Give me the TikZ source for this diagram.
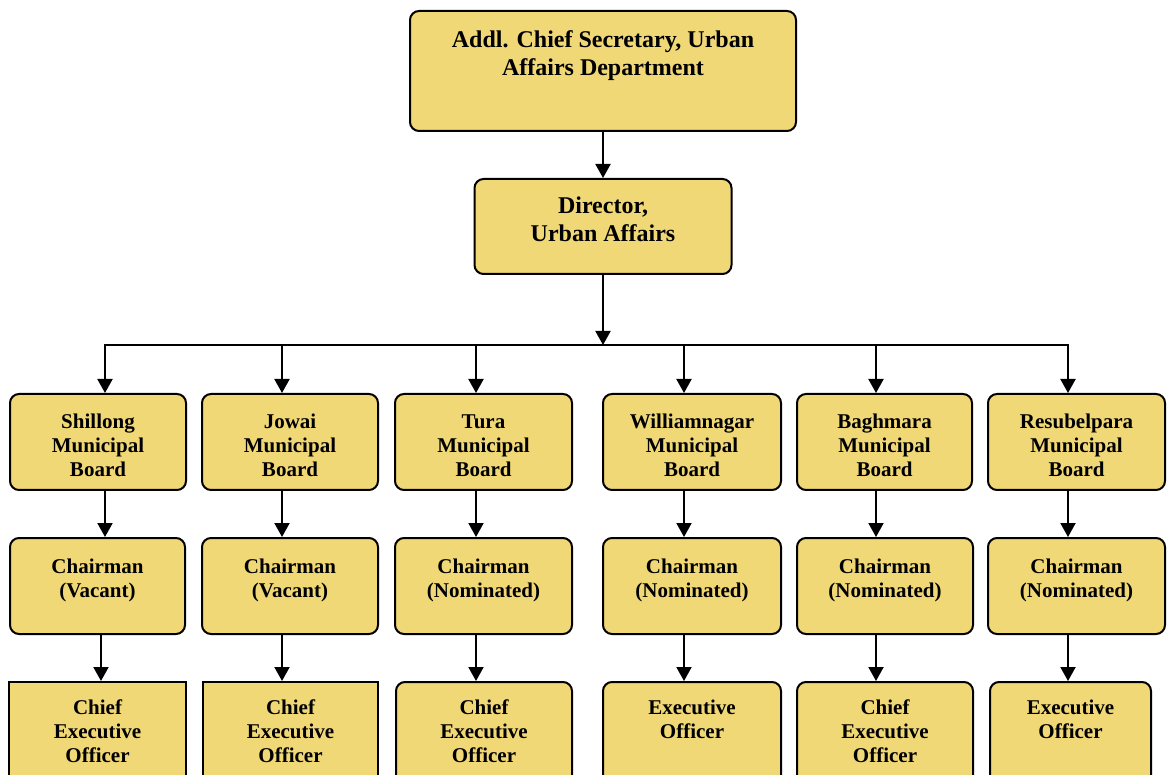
\documentclass[tikz,border=0pt]{standalone}
\usepackage{fontspec}
\setmainfont{Liberation Serif}
\usetikzlibrary{arrows.meta}
\definecolor{boxfill}{RGB}{241,216,118}
\newcommand{\ttxt}[1]{\begin{tabular}[t]{@{}c@{}}#1\end{tabular}}
\tikzset{
  orgbox/.style={draw=black, line width=2pt, fill=boxfill, rounded corners=9pt,
    inner sep=0pt, anchor=north, font=\bfseries\fontsize{21}{24}\selectfont,
    text height=35pt, text depth=61pt},
  bigbox/.style={orgbox, font=\bfseries\fontsize{24}{27.5}\selectfont},
  ceobox/.style={orgbox, text height=32pt, text depth=73pt},
  sharpbox/.style={ceobox, sharp corners},
  arr/.style={line width=2pt, -{Triangle[width=15pt,length=14pt]}},
  busline/.style={line width=2pt, line cap=rect},
}
\begin{document}
\begin{tikzpicture}[x=1pt,y=-1pt]
\useasboundingbox (0,0) rectangle (1168,775);
\clip (0,0) rectangle (1168,775);

% top
\node[bigbox, minimum width=386pt, text height=37pt, text depth=83pt] (acs) at (603,10)
  {\ttxt{Addl. Chief Secretary, Urban\\Affairs Department}};
\node[bigbox, minimum width=257pt, text height=35pt, text depth=60pt] (dir) at (603,178)
  {\ttxt{Director,\\Urban Affairs}};

% boards
\node[orgbox, minimum width=176pt] (b1) at (98,393)   {\ttxt{Shillong\\Municipal\\Board}};
\node[orgbox, minimum width=176pt] (b2) at (290,393)  {\ttxt{Jowai\\Municipal\\Board}};
\node[orgbox, minimum width=177pt] (b3) at (483.5,393){\ttxt{Tura\\Municipal\\Board}};
\node[orgbox, minimum width=178pt] (b4) at (692,393)  {\ttxt{Williamnagar\\Municipal\\Board}};
\node[orgbox, minimum width=175pt] (b5) at (884.5,393){\ttxt{Baghmara\\Municipal\\Board}};
\node[orgbox, minimum width=177pt] (b6) at (1076.5,393){\ttxt{Resubelpara\\Municipal\\Board}};

% chairmen
\node[orgbox, minimum width=175pt] (c1) at (97.5,537) {\ttxt{Chairman\\(Vacant)}};
\node[orgbox, minimum width=176pt] (c2) at (290,537)  {\ttxt{Chairman\\(Vacant)}};
\node[orgbox, minimum width=177pt] (c3) at (483.5,537){\ttxt{Chairman\\(Nominated)}};
\node[orgbox, minimum width=178pt] (c4) at (692,537)  {\ttxt{Chairman\\(Nominated)}};
\node[orgbox, minimum width=176pt] (c5) at (885,537)  {\ttxt{Chairman\\(Nominated)}};
\node[orgbox, minimum width=177pt] (c6) at (1076.5,537){\ttxt{Chairman\\(Nominated)}};

% officers
\node[sharpbox, minimum width=177pt] (e1) at (97.5,681) {\ttxt{Chief\\Executive\\Officer}};
\node[sharpbox, minimum width=175pt] (e2) at (290.5,681){\ttxt{Chief\\Executive\\Officer}};
\node[ceobox, minimum width=176pt] (e3) at (484,681)    {\ttxt{Chief\\Executive\\Officer}};
\node[ceobox, minimum width=178pt] (e4) at (692,681)    {\ttxt{Executive\\Officer}};
\node[ceobox, minimum width=176pt] (e5) at (885,681)    {\ttxt{Chief\\Executive\\Officer}};
\node[ceobox, minimum width=161pt] (e6) at (1070.5,681) {\ttxt{Executive\\Officer}};

% bus coordinates
\coordinate (busC) at (603,345);
\coordinate (t1) at (105,345);
\coordinate (t2) at (282,345);
\coordinate (t3) at (476,345);
\coordinate (t4) at (684,345);
\coordinate (t5) at (876,345);
\coordinate (t6) at (1068,345);
\coordinate (s1) at (101,345);

% connectors
\draw[arr] (acs.south) -- (acs.south |- dir.north);
\draw[arr] (dir.south) -- (busC);
\draw[busline] (t1) -- (t6);
\foreach \i in {1,...,6}{
  \draw[arr] (t\i) -- (t\i |- b\i.north);
  \draw[arr] (t\i |- b\i.south) -- (t\i |- c\i.north);
}
\draw[arr] (s1 |- c1.south) -- (s1 |- e1.north);
\foreach \i in {2,...,6}{
  \draw[arr] (t\i |- c\i.south) -- (t\i |- e\i.north);
}
\end{tikzpicture}
\end{document}
